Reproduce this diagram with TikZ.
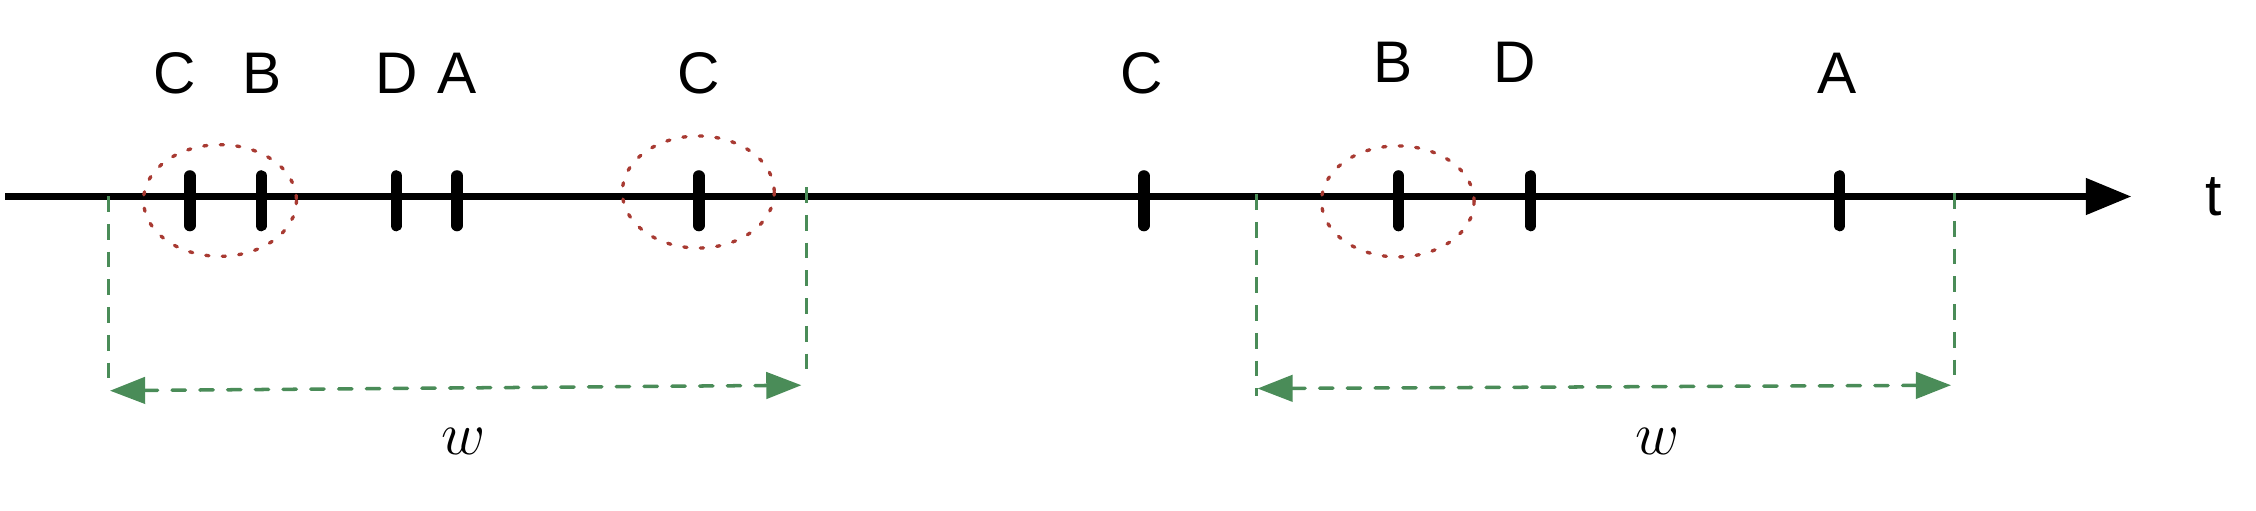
\documentclass[tikz,border=0pt]{standalone}
\usepackage{fontspec}
\setmainfont{Liberation Sans}
\usetikzlibrary{arrows.meta}
\definecolor{dotred}{RGB}{168,58,50}
\definecolor{wgreen}{RGB}{74,140,88}
\begin{document}
\begin{tikzpicture}[x=0.1mm,y=-0.1mm,
  lbl/.style={font=\fontsize{16.7}{20}\selectfont, anchor=base, inner sep=0pt},
  wlbl/.style={font=\fontsize{18.5}{22}\selectfont, inner sep=0pt},
  axisline/.style={line width=2.1pt, -{Triangle[length=13pt,width=10pt]}},
  tickmark/.style={line width=3.3pt, line cap=round},
  grp/.style={draw=dotred, line width=0.95pt, line cap=round, dash pattern=on 0.9pt off 3.8pt},
  guide/.style={draw=wgreen, line width=0.85pt, dash pattern=on 4.5pt off 3.4pt},
  span/.style={draw=wgreen, line width=1pt, line cap=round, dash pattern=on 3.8pt off 4.1pt,
    {Triangle[length=10pt,width=7.5pt]}-{Triangle[length=10pt,width=7.5pt]}}]
\useasboundingbox (0,0) rectangle (2256,510);

% axis
\coordinate (axs) at (5,196.5);
\coordinate (axe) at (2131.5,196.5);
\draw[axisline] (axs) -- (axe);
\node[lbl, anchor=center] (t) at (2213.5,197) {t};

% tick marks
\foreach \n/\x in {c1/189.8, b1/261.3, d1/396.3, a1/457.0, c2/698.8, c3/1143.8, b2/1398.5, d2/1530.6, a2/1839.6} {
  \coordinate (\n top) at (\x,176);
  \coordinate (\n bot) at (\x,225.5);
  \draw[tickmark] (\n top) -- (\n bot);
}

% labels
\node[lbl] (lc1) at (174.5,93.3) {C};
\node[lbl] (lb1) at (261.9,93.3) {B};
\node[lbl] (ld1) at (397,93.3) {D};
\node[lbl] (la1) at (457,93.3) {A};
\node[lbl] (lc2) at (699,93.3) {C};
\node[lbl] (lc3) at (1142,93.3) {C};
\node[lbl] (lb2) at (1393.5,82.7) {B};
\node[lbl] (ld2) at (1515,82.7) {D};
\node[lbl] (la2) at (1837.4,93.3) {A};

% groups
\coordinate (g1) at (220,200.5);
\coordinate (g2) at (698.3,192);
\coordinate (g3) at (1397.8,201.4);
\draw[grp] (g1) ellipse [x radius=76.5, y radius=55.8];
\draw[grp] (g2) ellipse [x radius=76, y radius=56];
\draw[grp] (g3) ellipse [x radius=76.3, y radius=55.5];

% window 1
\coordinate (w1lt) at (108.5,196);
\coordinate (w1lb) at (108.5,381);
\coordinate (w1rt) at (806.2,187);
\coordinate (w1rb) at (806.2,373);
\coordinate (w1a) at (110,390.7);
\coordinate (w1b) at (801.4,385.2);
\draw[guide] (w1lt) -- (w1lb);
\draw[guide] (w1rt) -- (w1rb);
\draw[span] (w1a) -- (w1b);
\node[wlbl] (w1) at (463.3,441.7) {$w$};

% window 2
\coordinate (w2lt) at (1256,194);
\coordinate (w2lb) at (1256,396);
\coordinate (w2rt) at (1954,193);
\coordinate (w2rb) at (1954,380);
\coordinate (w2a) at (1257.5,388.5);
\coordinate (w2b) at (1951,385.2);
\draw[guide] (w2lt) -- (w2lb);
\draw[guide] (w2rt) -- (w2rb);
\draw[span] (w2a) -- (w2b);
\node[wlbl] (w2) at (1658,441.7) {$w$};
\end{tikzpicture}
\end{document}
